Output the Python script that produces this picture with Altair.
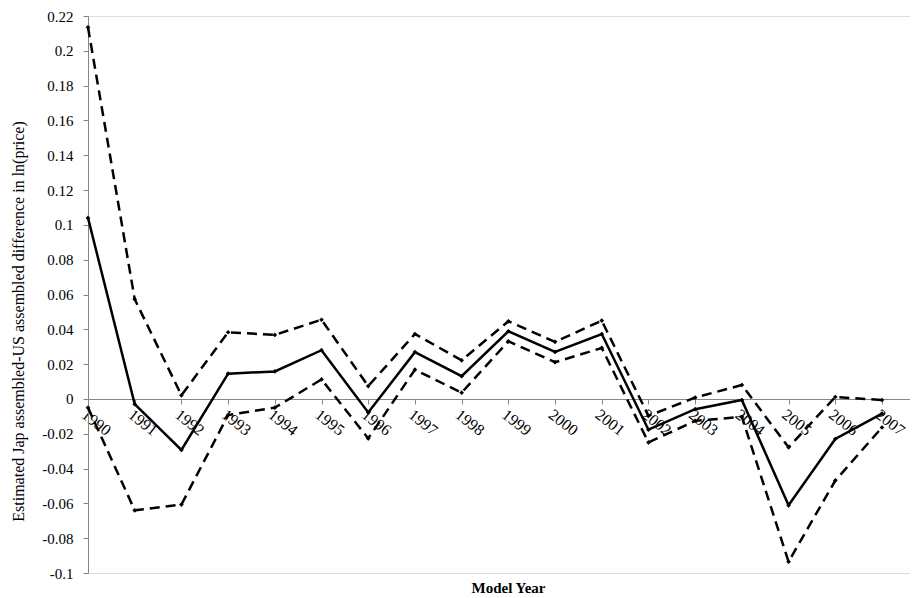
import altair as alt
import pandas as pd

years = list(range(1990, 2008))
estimate = [0.104, -0.003, -0.0293, 0.0145, 0.0158, 0.028, -0.0078, 0.0269, 0.0131,
            0.0389, 0.027, 0.0373, -0.0177, -0.0059, -0.0006, -0.0611, -0.023, -0.0084]
upper = [0.2135, 0.0573, 0.0021, 0.0383, 0.0368, 0.0455, 0.0074, 0.0373, 0.0222,
         0.0446, 0.0328, 0.045, -0.0097, 0.0008, 0.008, -0.0278, 0.0011, -0.0006]
lower = [-0.005, -0.064, -0.0607, -0.0093, -0.005, 0.0112, -0.0227, 0.0168, 0.0036,
         0.0331, 0.0211, 0.0293, -0.025, -0.0126, -0.0103, -0.0935, -0.0469, -0.0164]
y_ticks = [-0.1, -0.08, -0.06, -0.04, -0.02, 0, 0.02, 0.04, 0.06, 0.08, 0.1,
           0.12, 0.14, 0.16, 0.18, 0.2, 0.22]

rows = []
for name, vals in [("estimate", estimate), ("upper", upper), ("lower", lower)]:
    for yr, v in zip(years, vals):
        rows.append({"year": yr, "value": v, "series": name})
df = pd.DataFrame(rows)

FONT = "Liberation Serif"
GRAY = "#868686"

x = alt.X(
    "year:Q",
    scale=alt.Scale(domain=[1990, 2007.6], nice=False, zero=False),
    axis=alt.Axis(
        values=years, format="d", offset=-174, labelAngle=38, labelAlign="left",
        labelBaseline="top", labelPadding=2, tickSize=5, tickColor=GRAY,
        domainColor=GRAY, grid=False, labelFontSize=16,
        labelColor="black", labelOverlap=False, labelFlush=False,
        title="Model Year", titleFontSize=15, titleFontWeight="bold",
        titleColor="black", titleX=420, titleY=193, titleBaseline="alphabetic",
        titleAlign="center",
    ),
)
y = alt.Y(
    "value:Q",
    scale=alt.Scale(domain=[-0.1, 0.22], nice=False, zero=False),
    axis=alt.Axis(
        values=y_ticks, grid=False, tickSize=5, tickColor=GRAY, domainColor=GRAY,
        labelFontSize=15, labelColor="black", labelPadding=10,
        labelExpr="datum.value < 0 ? '-' + format(-datum.value, '~g') : format(datum.value, '~g')",
        title="Estimated Jap assembled-US assembled difference in ln(price)",
        titleFontSize=16, titleFontWeight="normal", titleColor="black",
        titleX=-70, titleY=305, titleAngle=270, titleBaseline="middle", titleAlign="center",
    ),
)

marker = alt.OverlayMarkDef(shape="diamond", size=22, filled=True, color="black", opacity=1)

solid = alt.Chart(df).transform_filter(alt.datum.series == "estimate").mark_line(
    color="black", strokeWidth=2.5, point=marker
).encode(x=x, y=y)

dashed = alt.Chart(df).transform_filter(alt.datum.series != "estimate").mark_line(
    color="black", strokeWidth=2.5, strokeDash=[10, 6], point=marker
).encode(x=x, y=y, detail="series:N")

chart = alt.layer(dashed, solid).properties(
    width=822, height=557,
    padding={"left": 80, "top": 8, "right": 0, "bottom": 25},
    autosize=alt.AutoSizeParams(type="none"),
).configure_view(stroke=None).configure(
    background="white", font=FONT
).configure_axis(labelFont=FONT, titleFont=FONT)

chart.save("out.html", embed_options={"renderer": "svg", "actions": False})
